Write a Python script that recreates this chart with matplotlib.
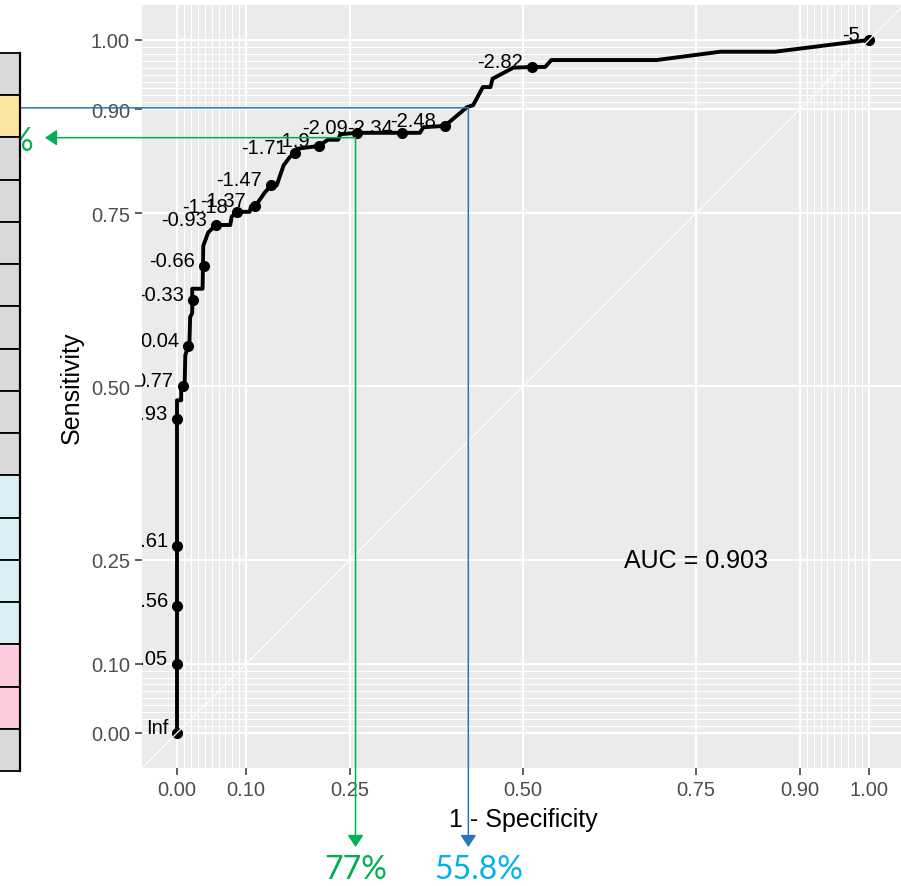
import matplotlib
matplotlib.use("Agg")
import matplotlib.pyplot as plt

plt.rcParams["font.family"] = ["Liberation Sans", "DejaVu Sans"]

# ROC curve path (1 - specificity, sensitivity)
curve_fpr = [0.000, 0.000, 0.006, 0.006, 0.011, 0.012, 0.016, 0.018, 0.019, 0.022,
             0.022, 0.037, 0.038, 0.045, 0.056, 0.077, 0.079, 0.087, 0.105, 0.107,
             0.113, 0.120, 0.127, 0.136, 0.144, 0.154, 0.163, 0.171, 0.173, 0.205,
             0.218, 0.233, 0.236, 0.260, 0.325, 0.351, 0.356, 0.387, 0.419, 0.428,
             0.442, 0.453, 0.456, 0.486, 0.513, 0.532, 0.541, 0.693, 0.785, 0.864,
             1.000]
curve_sens = [0.000, 0.480, 0.480, 0.497, 0.500, 0.545, 0.558, 0.562, 0.600, 0.606,
              0.641, 0.641, 0.703, 0.722, 0.733, 0.733, 0.745, 0.752, 0.752, 0.760,
              0.760, 0.770, 0.780, 0.790, 0.790, 0.819, 0.831, 0.837, 0.843, 0.847,
              0.856, 0.856, 0.864, 0.866, 0.866, 0.866, 0.874, 0.876, 0.903, 0.906,
              0.932, 0.932, 0.944, 0.960, 0.961, 0.961, 0.971, 0.971, 0.983, 0.983,
              1.000]

# printed thresholds
thr_labels = ["Inf", "4.05", "3.56", "2.61", "1.93", "0.77", "0.04", "-0.33", "-0.66",
              "-0.93", "-1.18", "-1.37", "-1.47", "-1.71", "-1.9", "-2.09", "-2.34",
              "-2.48", "-2.82", "-5"]
thr_fpr = [0.000, 0.000, 0.000, 0.000, 0.000, 0.008, 0.016, 0.023, 0.039, 0.056,
           0.087, 0.113, 0.136, 0.171, 0.205, 0.260, 0.325, 0.387, 0.513, 1.000]
thr_sens = [0.000, 0.100, 0.183, 0.270, 0.453, 0.500, 0.558, 0.625, 0.674, 0.733,
            0.752, 0.760, 0.790, 0.837, 0.847, 0.866, 0.866, 0.876, 0.961, 1.000]

auc_text = "AUC = 0.903"

major_breaks = [0.0, 0.1, 0.25, 0.5, 0.75, 0.9, 1.0]
major_labels = ["0.00", "0.10", "0.25", "0.50", "0.75", "0.90", "1.00"]
minor_breaks = [i / 100 for i in range(1, 10)] + [i / 100 for i in range(91, 100)]

# cut-off guide lines (fpr, sens) and their captions
cut_green = (0.258, 0.859)
cut_blue = (0.421, 0.902)
green_caption = "77%"
blue_caption = "55.8%"

# side table fragment (row colours, top to bottom)
GRAY, YELLOW, BLUE, PINK = "#d9d9d9", "#fde59f", "#daf0f5", "#fccbdd"
table_colors = [GRAY, YELLOW] + [GRAY] * 8 + [BLUE] * 4 + [PINK] * 2 + [GRAY]

W, H = 901, 887
fig = plt.figure(figsize=(W / 100, H / 100), dpi=100)
fig.patch.set_facecolor("white")

ax = fig.add_axes([142.4 / W, (H - 768.6) / H, 761.2 / W, 762.3 / H])
ax.set_facecolor("#ebebeb")
ax.set_xlim(-0.05, 1.05)
ax.set_ylim(-0.05, 1.05)
for s in ax.spines.values():
    s.set_visible(False)

ax.set_xticks(major_breaks)
ax.set_xticklabels(major_labels)
ax.set_yticks(major_breaks)
ax.set_yticklabels(major_labels)
ax.set_xticks(minor_breaks, minor=True)
ax.set_yticks(minor_breaks, minor=True)
ax.grid(which="major", color="white", linewidth=1.5)
ax.grid(which="minor", color="white", linewidth=0.75)
ax.set_axisbelow(True)
ax.tick_params(which="major", length=5, width=1.1, color="#333333",
               labelsize=14.5, labelcolor="#4d4d4d", pad=4)
ax.tick_params(which="minor", length=0)

ax.set_xlabel("1 - Specificity", fontsize=18, labelpad=5.5)
ax.set_ylabel("Sensitivity", fontsize=18, labelpad=5)

ax.plot(curve_fpr, curve_sens, color="black", linewidth=2.8, zorder=3,
        solid_joinstyle="round")
ax.plot(thr_fpr, thr_sens, "o", color="black", markersize=7, zorder=4)
ax.axline((0, 0), (1, 1), color="white", linewidth=0.9, zorder=5)

for lab, x, y in zip(thr_labels, thr_fpr, thr_sens):
    ax.annotate(lab, (x, y), xytext=(-9, 0), textcoords="offset pixels",
                ha="right", va="baseline", fontsize=14.5, color="black",
                clip_on=True, zorder=6)

ax.text(0.75, 0.25, auc_text, ha="center", va="center", fontsize=18)

# guide arrows
head = "-|>,head_length=0.36,head_width=0.24"
arrow_bottom = (H - 848) / H
ax.annotate("", xy=(20 / W, cut_blue[1]), xycoords=("figure fraction", "data"),
            xytext=cut_blue, textcoords="data",
            arrowprops=dict(arrowstyle="-", color="#2e75b6", lw=1.1,
                            shrinkA=0, shrinkB=0),
            annotation_clip=False, zorder=7)
ax.annotate("", xy=(cut_blue[0], arrow_bottom), xycoords=("data", "figure fraction"),
            xytext=cut_blue, textcoords="data",
            arrowprops=dict(arrowstyle=head, color="#2e75b6", lw=1.1,
                            shrinkA=0, shrinkB=0, mutation_scale=20),
            annotation_clip=False, zorder=7)
ax.annotate("", xy=(45 / W, cut_green[1]), xycoords=("figure fraction", "data"),
            xytext=cut_green, textcoords="data",
            arrowprops=dict(arrowstyle=head, color="#00b050", lw=1.1,
                            shrinkA=0, shrinkB=0, mutation_scale=20),
            annotation_clip=False, zorder=7)
ax.annotate("", xy=(cut_green[0], arrow_bottom), xycoords=("data", "figure fraction"),
            xytext=cut_green, textcoords="data",
            arrowprops=dict(arrowstyle=head, color="#00b050", lw=1.1,
                            shrinkA=0, shrinkB=0, mutation_scale=20),
            annotation_clip=False, zorder=7)

fig.text(355.5 / W, 1.5 / H, green_caption, ha="center", va="bottom",
         fontsize=23, color="#00b050", family=["Lato", "DejaVu Sans"])
fig.text(479 / W, 1.5 / H, blue_caption, ha="center", va="bottom",
         fontsize=23, color="#00b0f0", family=["Lato", "DejaVu Sans"])
# tail of a percentage hidden behind the table
fig.text(33 / W, (H - 151) / H, "%", ha="right", va="baseline",
         fontsize=23, color="#00b050", family=["Lato", "DejaVu Sans"], zorder=1)

# table fragment on the left edge
tab = fig.add_axes([-0.03, (H - 772) / H, 0.03 + 20 / W, 718 / H], zorder=10)
tab.set_xlim(0, 1)
tab.set_ylim(len(table_colors), 0)
tab.axis("off")
bars = tab.barh([i + 0.5 for i in range(len(table_colors))], 1, height=1,
                color=table_colors, edgecolor="black", linewidth=1.3)
for b in bars:
    b.set_clip_on(False)
tab.axvline(1, color="black", linewidth=1.6, clip_on=False)

fig.savefig("out.png", dpi=100)
